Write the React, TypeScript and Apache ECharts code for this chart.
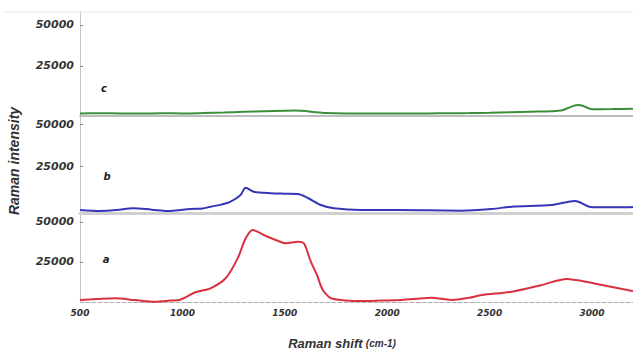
import React, { useEffect, useRef } from "react";
import * as echarts from "echarts";

// Raman shift (cm-1) and intensity
const redShift = [500, 580, 672, 770, 868, 940, 990, 1064, 1137, 1211, 1270, 1309, 1343, 1397, 1456, 1505, 1564, 1593, 1627, 1657, 1676, 1691, 1725, 1800, 1873, 1970, 2069, 2150, 2216, 2314, 2400, 2461, 2608, 2755, 2877, 2951, 3049, 3172, 3200];
const redVal = [1250, 1800, 2300, 1200, 200, 900, 1440, 6060, 8560, 14810, 27310, 39810, 45000, 41880, 38750, 36690, 37690, 36690, 25190, 16880, 10000, 6440, 2310, 1000, 625, 900, 1250, 2000, 2690, 1250, 2600, 4375, 6440, 10625, 14375, 13125, 10625, 7500, 6875];

const blueShift = [500, 598, 680, 760, 850, 941, 1039, 1100, 1137, 1190, 1235, 1284, 1309, 1348, 1431, 1500, 1564, 1613, 1676, 1740, 1873, 2069, 2200, 2363, 2510, 2608, 2804, 2917, 3000, 3147, 3200];
const blueVal = [-1190, -1790, -1200, -180, -1000, -1790, -600, -300, 770, 2000, 3750, 7740, 12080, 9700, 8750, 8500, 8330, 5950, 1790, -180, -1190, -1190, -1400, -1600, -600, 770, 1790, 4170, 420, 420, 600];

const greenShift = [500, 600, 700, 800, 900, 1000, 1100, 1200, 1300, 1400, 1500, 1550, 1600, 1650, 1700, 1800, 1900, 2000, 2100, 2200, 2300, 2400, 2500, 2600, 2700, 2800, 2850, 2880, 2910, 2930, 2950, 2980, 3000, 3100, 3200];
const greenVal = [-3900, -3800, -3900, -4000, -3800, -3900, -3700, -3400, -2900, -2600, -2300, -2200, -2500, -3200, -3700, -3900, -3900, -4000, -3900, -3900, -3800, -3700, -3500, -3200, -2900, -2600, -2200, -800, 700, 1200, 900, -600, -1400, -1300, -1100];

const yTickValues = [25000, 50000];
const xTickValues = [500, 1000, 1500, 2000, 2500, 3000];
const sampleLetters = ["c", "b", "a"];

const zip = (xs: number[], ys: number[]) => xs.map((x, i) => [x, ys[i]]);

export default function App() {
  const ref = useRef<HTMLDivElement>(null);
  useEffect(() => {
    if (!ref.current) return;
    const chart = echarts.init(ref.current, null, { renderer: "svg" });
    const labelBase = {
      color: "#333",
      fontWeight: "bold" as const,
      fontStyle: "italic" as const,
      fontFamily: "DejaVu Sans, sans-serif",
    };
    const grids = [
      { left: 80, right: 0, top: 12, height: 104, containLabel: false, outerBoundsMode: "none" },
      { left: 80, right: 0, top: 116, height: 97, containLabel: false, outerBoundsMode: "none" },
      { left: 80, right: 0, top: 213, height: 89, containLabel: false, outerBoundsMode: "none" },
    ];
    const yRanges = [
      [-5500, 57900],
      [-3000, 54800],
      [0, 55600],
    ];
    const baseLines = [
      { color: "#a8a8a8", width: 1.5, type: "solid" },
      { color: "#d0d0d0", width: 3, type: "solid" },
      { color: "#b0b0b0", width: 1, type: "dashed" },
    ];
    const xAxis = grids.map((_, i) => ({
      type: "value",
      gridIndex: i,
      min: 500,
      max: 3200,
      interval: 500,
      axisLine: {
        show: true,
        onZero: false,
        lineStyle: baseLines[i],
      },
      axisTick: { show: false },
      axisLabel: {
        show: i === 2,
        margin: 6,
        customValues: xTickValues,
        formatter: (v: number) => String(v),
        fontSize: 9,
        ...labelBase,
      },
      splitLine: { show: false },
    }));
    const yAxis = grids.map((_, i) => ({
      type: "value",
      gridIndex: i,
      min: yRanges[i][0],
      max: yRanges[i][1],
      axisLine: { show: true, lineStyle: { color: "#c8c8c8", width: 1 } },
      axisTick: {
        show: true,
        inside: true,
        length: 3,
        customValues: yTickValues,
        lineStyle: { color: "#888" },
      },
      axisLabel: {
        show: true,
        margin: 6,
        customValues: yTickValues,
        formatter: (v: number) => String(v),
        fontSize: 11,
        ...labelBase,
      },
      splitLine: { show: false },
    }));
    const colors = ["#3b8f3b", "#3535b8", "#d9323f"];
    const datas = [zip(greenShift, greenVal), zip(blueShift, blueVal), zip(redShift, redVal)];
    const series = datas.map((d, i) => ({
      type: "line",
      xAxisIndex: i,
      yAxisIndex: i,
      data: d,
      showSymbol: false,
      smooth: 0.3,
      lineStyle: { color: colors[i], width: 2 },
    }));
    const letterPos = [
      [104, 88],
      [107, 176],
      [106, 259],
    ];
    chart.setOption({
      animation: false,
      backgroundColor: "#ffffff",
      grid: grids,
      xAxis,
      yAxis,
      series,
      graphic: [
        {
          type: "line",
          shape: { x1: 5, y1: 12, x2: 633, y2: 12 },
          style: { stroke: "#e4e4e4", lineWidth: 1 },
          silent: true,
        },
        ...sampleLetters.map((t, i) => ({
          type: "text",
          x: letterPos[i][0],
          y: letterPos[i][1],
          style: {
            text: t,
            fill: "#222",
            font: "italic bold 10px DejaVu Sans, sans-serif",
            align: "center",
            verticalAlign: "middle",
          },
        })),
        {
          type: "text",
          x: 14,
          y: 161,
          rotation: Math.PI / 2,
          style: {
            text: "Raman intensity",
            fill: "#333",
            font: "italic bold 14px Liberation Sans, Arial, sans-serif",
            align: "center",
            verticalAlign: "middle",
          },
        },
        {
          type: "text",
          x: 342,
          y: 343,
          style: {
            text: "{a|Raman shift} {b|(cm-1)}",
            align: "center",
            verticalAlign: "middle",
            rich: {
              a: {
                fill: "#333",
                font: "italic bold 13px Liberation Sans, Arial, sans-serif",
              },
              b: {
                fill: "#333",
                font: "italic bold 10px Liberation Sans, Arial, sans-serif",
              },
            },
          },
        },
      ],
    });
    return () => chart.dispose();
  }, []);
  return (
    <div
      ref={ref}
      style={{ position: "fixed", left: 0, top: 0, width: 633, height: 349 }}
    />
  );
}
